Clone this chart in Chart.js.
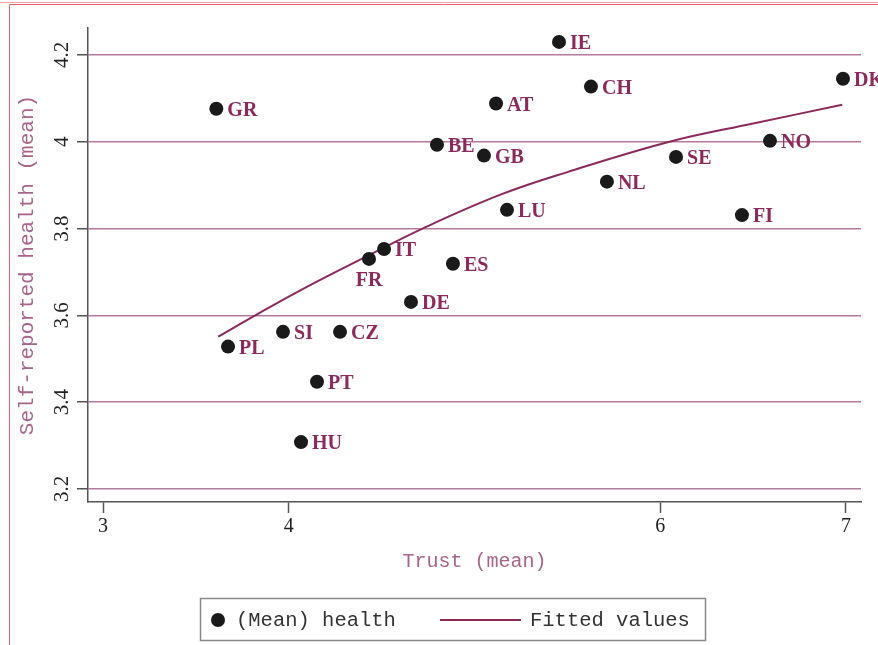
<!DOCTYPE html>
<html>
<head>
<meta charset="utf-8">
<script src="https://cdn.jsdelivr.net/npm/chart.js@4/dist/chart.umd.min.js"></script>
<style>
  html, body { margin: 0; padding: 0; background: #fff; }
  #wrap { width: 878px; height: 645px; }
</style>
</head>
<body>
<div id="wrap"><canvas id="trustChart" width="878" height="645"></canvas></div>
<script>
// Datos: confianza media vs. salud auto-reportada por país
const countries = ['GR', 'IE', 'CH', 'AT', 'DK', 'BE', 'GB', 'NO', 'SE', 'NL', 'LU',
                   'FI', 'IT', 'FR', 'ES', 'DE', 'SI', 'CZ', 'PL', 'PT', 'HU'];
const trust = [3.61, 5.455, 5.627, 5.116, 6.984, 4.798, 5.051, 6.591, 6.085, 5.713, 5.175,
               6.44, 4.513, 4.432, 4.884, 4.658, 3.969, 4.276, 3.673, 4.152, 4.066];
const health = [4.076, 4.230, 4.127, 4.088, 4.145, 3.993, 3.968, 4.002, 3.965, 3.908, 3.843,
                3.831, 3.753, 3.730, 3.719, 3.631, 3.562, 3.562, 3.528, 3.447, 3.308];

// Valores ajustados
const fitTrust = [3.62, 3.82, 4.10, 4.43, 4.72, 5.14, 5.50, 6.05, 6.50, 6.98];
const fitHealth = [3.551, 3.600, 3.666, 3.738, 3.800, 3.878, 3.930, 4.000, 4.042, 4.085];

// Marcas de los ejes
const xTicks = [3, 4, 6, 7];
const yTicks = [3.2, 3.4, 3.6, 3.8, 4, 4.2];

const labelBelow = ['FR']; // etiquetas que van debajo del punto

const plum = '#8b2a5c';
const axisGray = '#555';

// Etiquetas de país junto a cada punto
const pointLabels = {
    id: 'pointLabels',
    afterDatasetsDraw(chart) {
        const ctx = chart.ctx;
        const meta = chart.getDatasetMeta(0);
        ctx.save();
        ctx.font = 'bold 20px "Liberation Serif", "Times New Roman", serif';
        ctx.fillStyle = plum;
        meta.data.forEach((pt, i) => {
            const name = countries[i];
            ctx.textBaseline = 'alphabetic';
            if (labelBelow.includes(name)) {
                ctx.textAlign = 'center';
                ctx.fillText(name, pt.x, pt.y + 27);
            } else {
                ctx.textAlign = 'left';
                ctx.fillText(name, pt.x + 11, pt.y + 7);
            }
        });
        ctx.restore();
    }
};

// Leyenda con recuadro, estilo Stata
const boxLegend = {
    id: 'boxLegend',
    afterDraw(chart) {
        const ctx = chart.ctx;
        ctx.save();
        ctx.strokeStyle = '#888';
        ctx.lineWidth = 1.5;
        ctx.strokeRect(200.5, 598.5, 505, 42);

        ctx.fillStyle = '#1a1a1a';
        ctx.beginPath();
        ctx.arc(218, 620, 7, 0, Math.PI * 2);
        ctx.fill();

        ctx.font = '20.5px "Liberation Mono", "Courier New", monospace';
        ctx.fillStyle = '#333';
        ctx.textBaseline = 'middle';
        ctx.textAlign = 'left';
        ctx.fillText(chart.data.datasets[0].label, 236, 621);

        ctx.strokeStyle = plum;
        ctx.lineWidth = 2;
        ctx.beginPath();
        ctx.moveTo(440, 620);
        ctx.lineTo(521, 620);
        ctx.stroke();

        ctx.fillText(chart.data.datasets[1].label, 530, 621);
        ctx.restore();
    }
};

// Marco rojo de la página
const pageFrame = {
    id: 'pageFrame',
    beforeDraw(chart) {
        const ctx = chart.ctx;
        ctx.save();
        ctx.lineWidth = 1;
        ctx.strokeStyle = '#f2a0a4';
        ctx.beginPath();
        ctx.moveTo(0, 2.5);
        ctx.lineTo(878, 2.5);
        ctx.stroke();
        ctx.strokeStyle = '#e8606a';
        ctx.beginPath();
        ctx.moveTo(878, 4.5);
        ctx.lineTo(9.5, 4.5);
        ctx.lineTo(9.5, 645);
        ctx.stroke();
        ctx.restore();
    }
};

const ctx = document.getElementById('trustChart').getContext('2d');

new Chart(ctx, {
    type: 'scatter',
    data: {
        datasets: [{
            label: '(Mean) health',
            data: trust.map((t, i) => ({ x: t, y: health[i] })),
            pointRadius: 7,
            pointHoverRadius: 7,
            backgroundColor: '#1a1a1a',
            borderWidth: 0,
            order: 1
        }, {
            label: 'Fitted values',
            type: 'line',
            data: fitTrust.map((t, i) => ({ x: t, y: fitHealth[i] })),
            borderColor: plum,
            borderWidth: 2,
            pointRadius: 0,
            fill: false,
            tension: 0.4,
            order: 2
        }]
    },
    options: {
        responsive: false,
        animation: false,
        layout: { padding: { top: 28, right: 17, left: 0, bottom: 0 } },
        plugins: {
            legend: { display: false },
            tooltip: { enabled: false }
        },
        scales: {
            x: {
                type: 'linear',
                min: 2.919,
                max: 7.081,
                afterBuildTicks: (scale) => { scale.ticks = xTicks.map(v => ({ value: v })); },
                afterFit: (scale) => { scale.height = 143; },
                ticks: {
                    font: { family: '"Liberation Serif", "Times New Roman", serif', size: 20 },
                    color: '#222',
                    padding: 2,
                    maxRotation: 0,
                    callback: (v) => String(v)
                },
                grid: {
                    drawOnChartArea: false,
                    drawTicks: true,
                    tickLength: 11,
                    tickColor: axisGray,
                    tickWidth: 1.5
                },
                border: { display: true, color: axisGray, width: 1.5 },
                title: {
                    display: true,
                    text: 'Trust (mean)',
                    color: '#a8648a',
                    font: { family: '"Liberation Mono", "Courier New", monospace', size: 20 },
                    padding: { top: 0, bottom: 71 }
                }
            },
            y: {
                type: 'linear',
                min: 3.17,
                max: 4.262,
                afterBuildTicks: (scale) => { scale.ticks = yTicks.map(v => ({ value: v })); },
                afterFit: (scale) => { scale.width = 88; },
                ticks: {
                    font: { family: '"Liberation Serif", "Times New Roman", serif', size: 21 },
                    color: '#222',
                    padding: 1,
                    minRotation: 90,
                    maxRotation: 90,
                    crossAlign: 'center',
                    callback: (v) => String(Math.round(v * 10) / 10)
                },
                grid: {
                    color: '#b47a9c',
                    lineWidth: 1.5,
                    tickLength: 11,
                    tickColor: axisGray,
                    tickWidth: 1.5
                },
                border: { display: true, color: axisGray, width: 1.5 },
                title: {
                    display: true,
                    text: 'Self-reported health (mean)',
                    color: '#a8648a',
                    font: { family: '"Liberation Mono", "Courier New", monospace', size: 21 },
                    padding: { top: 15, bottom: 0 }
                }
            }
        }
    },
    plugins: [pageFrame, pointLabels, boxLegend]
});
</script>
</body>
</html>
